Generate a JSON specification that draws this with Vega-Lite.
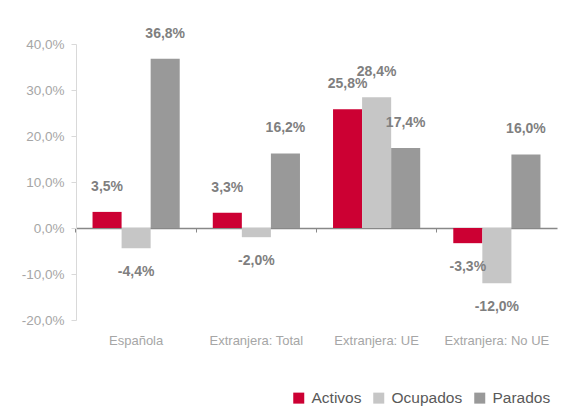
{
  "$schema": "https://vega.github.io/schema/vega-lite/v6.json",
  "width": 481,
  "height": 276,
  "autosize": {"type": "none"},
  "padding": {"left": 76, "top": 44, "right": 17, "bottom": 91},
  "config": {"view": {"stroke": null}, "font": "Liberation Sans"},
  "data": {"values": [
    {"cat": "Española", "serie": "Activos", "value": 3.5},
    {"cat": "Española", "serie": "Ocupados", "value": -4.4},
    {"cat": "Española", "serie": "Parados", "value": 36.8},
    {"cat": "Extranjera: Total", "serie": "Activos", "value": 3.3},
    {"cat": "Extranjera: Total", "serie": "Ocupados", "value": -2.0},
    {"cat": "Extranjera: Total", "serie": "Parados", "value": 16.2},
    {"cat": "Extranjera: UE", "serie": "Activos", "value": 25.8},
    {"cat": "Extranjera: UE", "serie": "Ocupados", "value": 28.4},
    {"cat": "Extranjera: UE", "serie": "Parados", "value": 17.4},
    {"cat": "Extranjera: No UE", "serie": "Activos", "value": -3.3},
    {"cat": "Extranjera: No UE", "serie": "Ocupados", "value": -12.0},
    {"cat": "Extranjera: No UE", "serie": "Parados", "value": 16.0}
  ]},
  "transform": [
    {"calculate": "(datum.value < 0 ? '-' : '') + replace(format(abs(datum.value), '.1f'), '.', ',') + '%'", "as": "label"}
  ],
  "resolve": {"axis": {"x": "independent"}},
  "layer": [
    {
      "mark": {"type": "bar"},
      "encoding": {
        "x": {
          "field": "cat", "type": "nominal",
          "sort": ["Española", "Extranjera: Total", "Extranjera: UE", "Extranjera: No UE"],
          "scale": {"paddingInner": 0.275, "paddingOuter": 0.1375},
          "axis": {"title": null, "orient": "bottom", "labelAngle": 0, "domain": false, "ticks": false, "labelColor": "#a6a6a6", "labelFontSize": 13, "labelPadding": 14}
        },
        "xOffset": {"field": "serie", "type": "nominal", "sort": ["Activos", "Ocupados", "Parados"]},
        "y": {
          "field": "value", "type": "quantitative",
          "scale": {"domain": [-20, 40], "nice": false},
          "axis": {"title": null, "grid": false, "values": [-20, -10, 0, 10, 20, 30, 40],
            "labelExpr": "(datum.value < 0 ? '-' : '') + replace(format(abs(datum.value), '.1f'), '.', ',') + '%'",
            "labelColor": "#a6a6a6", "labelFontSize": 13.5, "labelPadding": 7,
            "tickColor": "#d9d9d9", "domainColor": "#d9d9d9", "tickSize": 5}
        },
        "color": {
          "field": "serie", "type": "nominal",
          "scale": {"domain": ["Activos", "Ocupados", "Parados"], "range": ["#cc0033", "#c6c6c6", "#999999"]},
          "legend": {"title": null, "orient": "none", "direction": "horizontal", "legendX": 215, "legendY": 346,
            "symbolType": "square", "symbolSize": 121, "symbolStrokeWidth": 0, "labelFontSize": 15.5, "labelColor": "#595959",
            "labelOffset": 5, "columnPadding": 9}
        }
      }
    },
    {
      "transform": [{"filter": "datum.value >= 0"}],
      "mark": {"type": "text", "fontWeight": "bold", "fontSize": 14, "color": "#7f7f7f", "dy": -25, "baseline": "middle"},
      "encoding": {
        "x": {
          "field": "cat", "type": "nominal",
          "sort": ["Española", "Extranjera: Total", "Extranjera: UE", "Extranjera: No UE"],
          "axis": {"title": null, "orient": "bottom", "labels": false, "offset": -92, "bandPosition": -0.19, "domainColor": "#888888", "domainWidth": 1.5, "tickColor": "#888888", "tickSize": 4}
        },
        "xOffset": {"field": "serie", "type": "nominal", "sort": ["Activos", "Ocupados", "Parados"]},
        "y": {"field": "value", "type": "quantitative"},
        "text": {"field": "label"}
      }
    },
    {
      "transform": [{"filter": "datum.value < 0"}],
      "mark": {"type": "text", "fontWeight": "bold", "fontSize": 14, "color": "#7f7f7f", "dy": 24, "baseline": "middle"},
      "encoding": {
        "x": {
          "field": "cat", "type": "nominal",
          "sort": ["Española", "Extranjera: Total", "Extranjera: UE", "Extranjera: No UE"],
          "axis": null
        },
        "xOffset": {"field": "serie", "type": "nominal", "sort": ["Activos", "Ocupados", "Parados"]},
        "y": {"field": "value", "type": "quantitative"},
        "text": {"field": "label"}
      }
    }
  ]
}
